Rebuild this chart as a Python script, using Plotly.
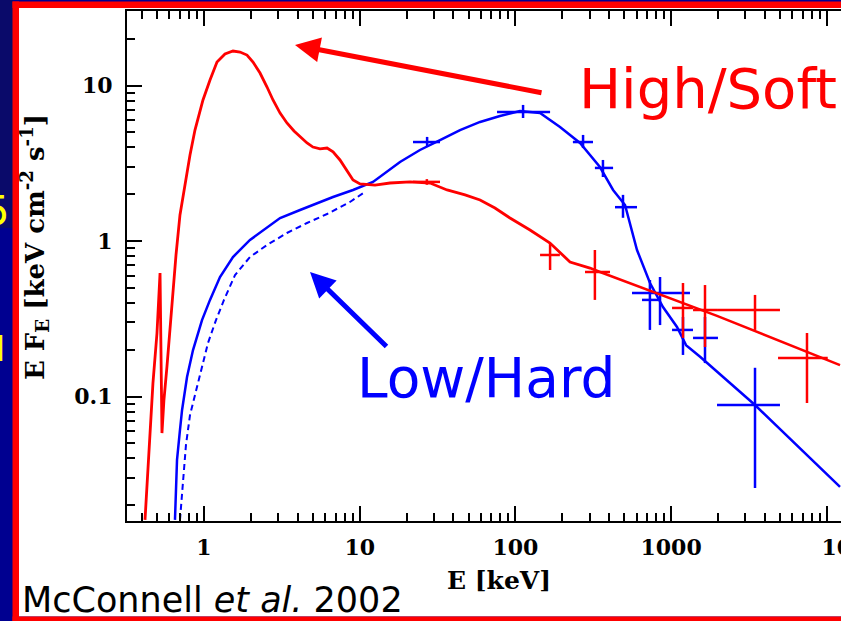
import plotly.graph_objects as go

# ---------------- data ----------------
# High/Soft state: measured spectrum (keV, keV cm^-2 s^-1)
red_E = [0.418, 0.450, 0.470, 0.499, 0.522, 0.537, 0.553, 0.578, 0.623, 0.661,
         0.701, 0.755, 0.813, 0.875, 0.985, 1.093, 1.212, 1.364, 1.536, 1.703,
         1.889, 2.064, 2.29, 2.54, 2.774, 3.08, 3.41, 3.785, 4.14, 4.59,
         5.01, 5.56, 6.17, 6.74, 7.47, 8.28, 9.06, 10.05, 12.54, 15.65,
         21.05, 28.3, 36.4, 47.5, 59.3, 73.9, 92.3, 124.1, 166.8, 224.3,
         301.4, 349.4]
red_F = [0.0161, 0.0582, 0.122, 0.256, 0.622, 0.0582, 0.0949, 0.155, 0.418, 0.813,
         1.47, 2.29, 3.57, 5.17, 8.07, 10.85, 14.16, 15.94, 16.67, 16.42,
         15.7, 14.16, 12.03, 9.78, 8.07, 6.65, 5.74, 5.10, 4.67, 4.27,
         4.02, 3.91, 3.96, 3.74, 3.32, 2.86, 2.47, 2.33, 2.29, 2.36,
         2.40, 2.36, 2.13, 1.98, 1.835, 1.63, 1.406, 1.177, 0.971, 0.733,
         0.670, 0.632]
# High/Soft model continuation
red_model_E = [349.4, 1972, 12160]
red_model_F = [0.632, 0.330, 0.159]
# High/Soft data points with error bars
redpt_E = [27.0, 167, 324, 1192, 1651, 3459, 7461]
redpt_Elo = [22.0, 144, 280, 1014, 1383, 2000, 4862]
redpt_Ehi = [32.8, 193, 405, 1383, 2000, 5003, 10140]
redpt_F = [2.40, 0.813, 0.632, 0.371, 0.360, 0.360, 0.177]
redpt_Flo = [2.30, 0.651, 0.418, 0.238, 0.208, 0.268, 0.0908]
redpt_Fhi = [2.50, 0.971, 0.875, 0.537, 0.521, 0.450, 0.256]

# Low/Hard state: data + model (solid)
blue_E = [0.651, 0.671, 0.701, 0.723, 0.778, 0.850, 0.971, 1.093, 1.267, 1.535,
          1.974, 2.54, 3.08, 4.14, 5.56, 6.74, 9.06, 12.17, 18.15, 24.38,
          32.8, 44.1, 59.3, 79.6, 107.0, 143.9, 193.4, 260, 349, 424,
          506, 604, 732, 887, 1091, 1247, 1535, 3459, 12160]
blue_F = [0.0161, 0.0391, 0.0609, 0.0819, 0.1334, 0.199, 0.310, 0.418, 0.587, 0.789,
          1.015, 1.230, 1.406, 1.583, 1.782, 1.919, 2.128, 2.395, 3.222, 3.848,
          4.46, 5.17, 5.83, 6.37, 6.86, 6.65, 5.41, 4.27, 2.99, 2.13,
          1.704, 0.875, 0.537, 0.376, 0.280, 0.214, 0.180, 0.0882, 0.0262]
# Low/Hard unabsorbed model (dashed)
blue_dash_E = [0.701, 0.733, 0.766, 0.813, 0.888, 0.971, 1.061, 1.194, 1.344, 1.582,
               1.974, 2.54, 3.41, 4.59, 6.17, 8.66, 10.8]
blue_dash_F = [0.0161, 0.0290, 0.0488, 0.0760, 0.110, 0.159, 0.221, 0.310, 0.418, 0.604,
               0.789, 0.943, 1.126, 1.305, 1.491, 1.782, 2.066]
# Low/Hard data points with error bars
bluept_E = [27.1, 112, 272, 365, 491, 731, 849, 1192, 1651, 3459]
bluept_Elo = [22.0, 76.2, 234, 324, 436, 650, 561, 1014, 1383, 1972]
bluept_Ehi = [32.8, 167, 315, 424, 604, 824, 1322, 1383, 2000, 5003]
bluept_F = [4.33, 6.76, 4.33, 2.95, 1.65, 0.418, 0.463, 0.268, 0.238, 0.0882]
bluept_Flo = [4.02, 6.18, 3.96, 2.58, 1.41, 0.268, 0.288, 0.185, 0.164, 0.0258]
bluept_Fhi = [4.67, 7.50, 4.81, 3.32, 1.98, 0.561, 0.587, 0.325, 0.325, 0.153]

x_tickvals = [1, 10, 100, 1000, 10000]
x_ticktext = ["1", "10", "100", "1000", "\u2007\u200710<sup>4</sup>"]
y_tickvals = [0.1, 1, 10]
y_ticktext = ["0.1", "1", "10"]

RED = "#ff0000"
BLUE = "#0000ff"

# ---------------- geometry ----------------
W, H = 841, 621
ML, MR, MT, MB = 127, 0, 11, 100
PW = W - ML - MR
PH = H - MT - MB


def px(x):
    return (x - ML) / PW


def py(y):
    return (H - MB - y) / PH


def minor_vals(lo, hi):
    vals = []
    for d in range(lo, hi):
        for k in range(2, 10):
            vals.append(k * 10 ** d)
    return vals


def errbar_trace(E, Elo, Ehi, F, Flo, Fhi, color, width):
    return go.Scatter(
        x=E, y=F, mode="markers", marker=dict(size=1, color=color),
        error_x=dict(type="data", symmetric=False,
                     array=[h - e for h, e in zip(Ehi, E)],
                     arrayminus=[e - l for e, l in zip(E, Elo)],
                     color=color, thickness=width, width=0),
        error_y=dict(type="data", symmetric=False,
                     array=[h - f for h, f in zip(Fhi, F)],
                     arrayminus=[f - l for f, l in zip(F, Flo)],
                     color=color, thickness=width, width=0),
        showlegend=False, hoverinfo="skip")


fig = go.Figure()
fig.add_trace(go.Scatter(x=blue_dash_E, y=blue_dash_F, mode="lines",
                         line=dict(color=BLUE, width=2, dash="6px,4px"), showlegend=False))
fig.add_trace(go.Scatter(x=blue_E, y=blue_F, mode="lines",
                         line=dict(color=BLUE, width=2.5), showlegend=False))
fig.add_trace(errbar_trace(bluept_E, bluept_Elo, bluept_Ehi, bluept_F, bluept_Flo, bluept_Fhi, BLUE, 2.5))
fig.add_trace(go.Scatter(x=red_E, y=red_F, mode="lines",
                         line=dict(color=RED, width=2.8), showlegend=False))
fig.add_trace(go.Scatter(x=red_model_E, y=red_model_F, mode="lines",
                         line=dict(color=RED, width=2.5), showlegend=False))
fig.add_trace(errbar_trace(redpt_E, redpt_Elo, redpt_Ehi, redpt_F, redpt_Flo, redpt_Fhi, RED, 2.5))

tickfont = dict(family="DejaVu Serif", size=22, color="black", weight="bold")

fig.update_xaxes(type="log", range=[(ML - 204) / 155.7, (W - 204) / 155.7],
                 tickmode="array", tickvals=x_tickvals, ticktext=x_ticktext,
                 ticks="inside", ticklen=15, tickwidth=2, tickcolor="black",
                 minor=dict(tickmode="array", tickvals=minor_vals(-1, 5), ticks="inside",
                            ticklen=8, tickwidth=1.5, tickcolor="black", showgrid=False),
                 showline=True, linecolor="black", linewidth=2, mirror="ticks",
                 showgrid=False, zeroline=False, tickfont=tickfont, automargin=False,
                 ticklabeloverflow="allow", ticklabelstandoff=6)
fig.update_yaxes(type="log", range=[(241 - (H - MB)) / 155.5, (241 - MT) / 155.5],
                 tickmode="array", tickvals=y_tickvals, ticktext=y_ticktext,
                 ticks="inside", ticklen=15, tickwidth=2, tickcolor="black",
                 minor=dict(tickmode="array", tickvals=minor_vals(-2, 2), ticks="inside",
                            ticklen=8, tickwidth=1.5, tickcolor="black", showgrid=False),
                 showline=True, linecolor="black", linewidth=2, mirror=False,
                 showgrid=False, zeroline=False, tickfont=tickfont, automargin=False,
                 ticklabelstandoff=8)


def rect(x0, x1, y0, y1, color):
    return dict(type="rect", xref="paper", yref="paper", x0=px(x0), x1=px(x1),
                y0=py(y0), y1=py(y1), fillcolor=color, line=dict(width=0), layer="below")


shapes = [
    rect(-5, 13, -5, 228, "#0a0a6a"),      # darker navy upper strip
    rect(19, 900, 8, 616.5, "white"),      # white slide panel
    rect(12.5, 19, 1.5, 640, RED),         # red frame: left
    rect(12.5, 900, 1.5, 8, RED),          # red frame: top
    rect(12.5, 900, 616.5, 640, RED),      # red frame: bottom
]

ann = [
    dict(x=px(34), y=py(247), xref="paper", yref="paper", xanchor="center", yanchor="middle",
         textangle=-90, showarrow=False,
         text="E F<sub>E</sub> [keV cm<sup>-2</sup> s<sup>-1</sup>]",
         font=dict(family="DejaVu Serif", size=26, color="black", weight="bold")),
    dict(x=px(499), y=py(580), xref="paper", yref="paper", xanchor="center", yanchor="middle",
         showarrow=False, text="E [keV]",
         font=dict(family="DejaVu Serif", size=25, color="black", weight="bold")),
    dict(x=px(577), y=py(88), xref="paper", yref="paper", xanchor="left", yanchor="middle",
         showarrow=False, text="High/Soft", font=dict(family="DejaVu Sans", size=56, color=RED)),
    dict(x=px(355), y=py(378), xref="paper", yref="paper", xanchor="left", yanchor="middle",
         showarrow=False, text="Low/Hard", font=dict(family="DejaVu Sans", size=55, color=BLUE)),
    dict(x=px(20), y=py(600), xref="paper", yref="paper", xanchor="left", yanchor="middle",
         showarrow=False, text="McConnell <i>et al.</i> 2002",
         font=dict(family="DejaVu Sans", size=35, color="black")),
    dict(x=px(11), y=py(211), xref="paper", yref="paper", xanchor="right", yanchor="middle",
         showarrow=False, text="5", font=dict(family="DejaVu Sans", size=40, color="#ffff00")),
    dict(x=px(8), y=py(348), xref="paper", yref="paper", xanchor="right", yanchor="middle",
         showarrow=False, text="I", font=dict(family="DejaVu Sans", size=36, color="#ffff00")),
    # arrows
    dict(x=px(295), y=py(45), xref="paper", yref="paper", ax=248, ay=48, text="",
         showarrow=True, arrowhead=2, arrowsize=1, arrowwidth=5, arrowcolor=RED),
    dict(x=px(310), y=py(272), xref="paper", yref="paper", ax=78, ay=76, text="",
         showarrow=True, arrowhead=2, arrowsize=1, arrowwidth=5, arrowcolor=BLUE),
]

fig.update_layout(width=W, height=H, autosize=False,
                  margin=dict(l=ML, r=MR, t=MT, b=MB, pad=0),
                  paper_bgcolor="#000090", plot_bgcolor="white",
                  shapes=shapes, annotations=ann, showlegend=False)

fig.write_html("out.html")
